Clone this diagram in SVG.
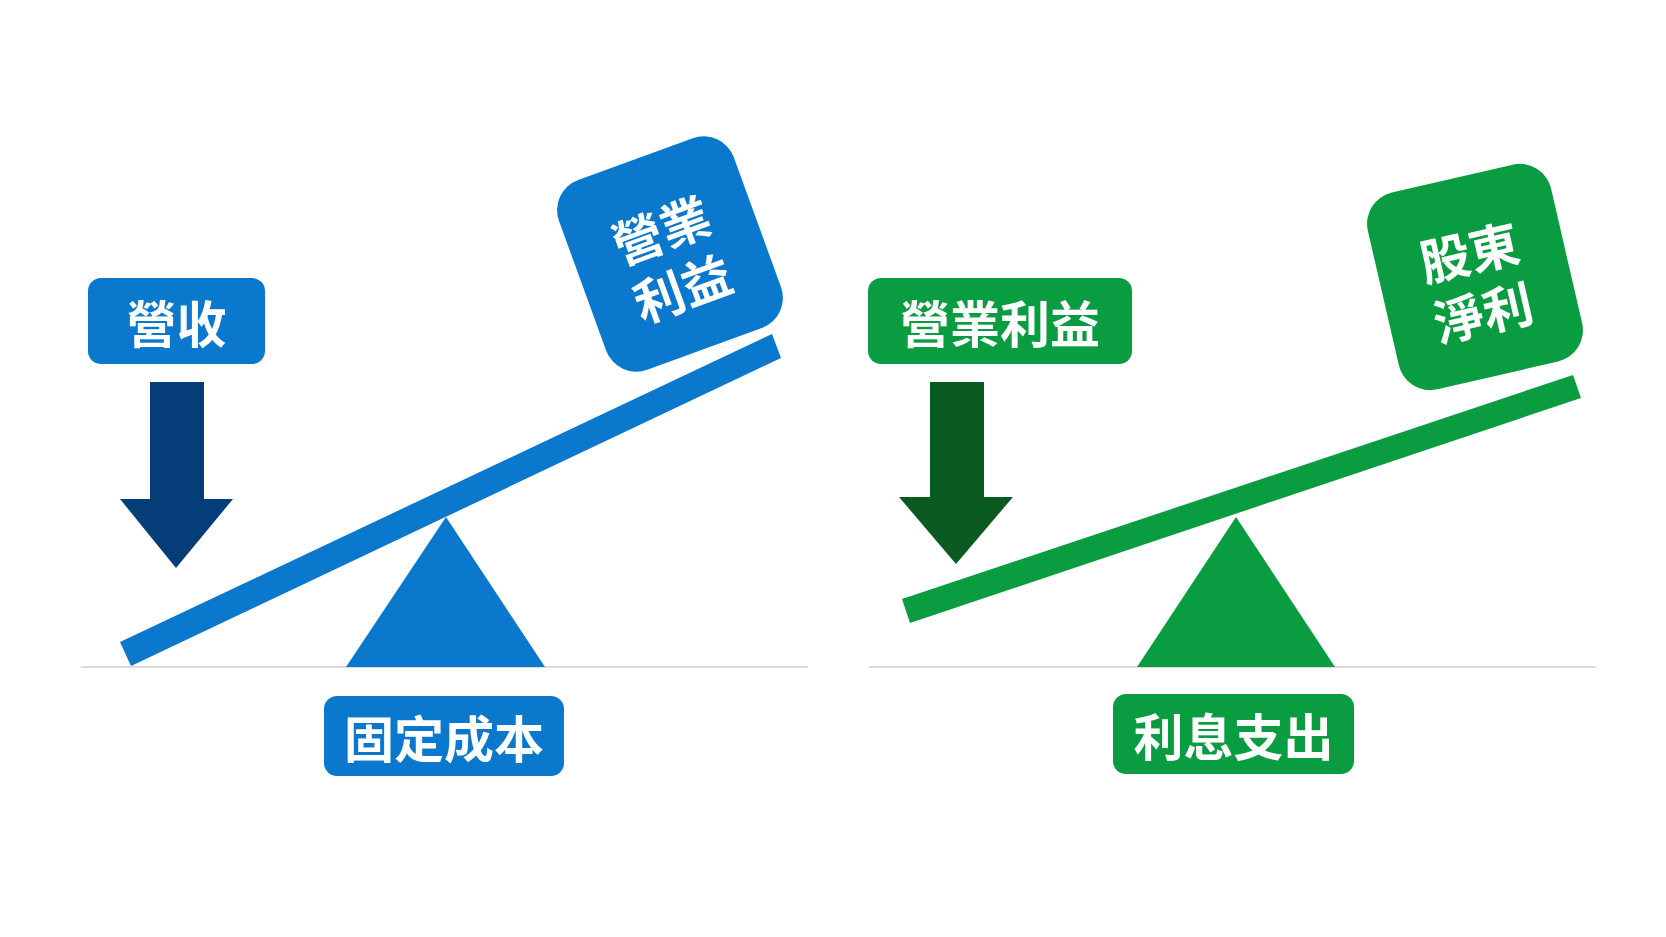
<svg xmlns="http://www.w3.org/2000/svg" width="1666" height="937" viewBox="0 0 1666 937">
<style>
.lbl{font-family:"Noto Sans CJK TC","Noto Sans CJK SC",sans-serif;font-weight:700;fill:#ffffff;text-anchor:middle;dominant-baseline:central}
.blue{fill:#0A78CC}
.green{fill:#0A9C41}
.ground{stroke:#DADADA;stroke-width:2}
</style>
<rect width="1666" height="937" fill="#ffffff"/>
<g id="ground">
<line class="ground" x1="81" y1="667" x2="808" y2="667"/>
<line class="ground" x1="869" y1="667" x2="1596" y2="667"/>
</g>
<g id="left-fulcrum"><polygon class="blue" points="346,667 545,667 446,517"/></g>
<g id="left-beam"><polygon class="blue" points="120,642 772,334 781,358 131,666"/></g>
<g id="left-op-income">
<g transform="translate(670,254) rotate(-20)">
<rect class="blue" x="-93" y="-101" width="186" height="202" rx="32"/>
<text class="lbl" x="0" y="-28" font-size="50">營業</text>
<text class="lbl" x="0" y="34" font-size="50">利益</text>
</g>
</g>
<g id="revenue">
<rect class="blue" x="88" y="278" width="177" height="86" rx="13"/>
<text class="lbl" x="176.5" y="321" font-size="50">營收</text>
</g>
<g id="fixed-cost">
<rect class="blue" x="324" y="696" width="240" height="80" rx="13"/>
<text class="lbl" x="444" y="736" font-size="50">固定成本</text>
</g>
<g id="right-fulcrum"><polygon class="green" points="1137,667 1335,667 1236,517"/></g>
<g id="right-beam"><polygon class="green" points="902,599 1573,375 1581,398 910,623"/></g>
<g id="net-income">
<g transform="translate(1475,277) rotate(-13)">
<rect class="green" x="-94" y="-101" width="188" height="202" rx="32"/>
<text class="lbl" x="0" y="-28" font-size="50">股東</text>
<text class="lbl" x="0" y="34" font-size="50">淨利</text>
</g>
</g>
<g id="op-income">
<rect class="green" x="868" y="278" width="264" height="86" rx="13"/>
<text class="lbl" x="1000" y="321" font-size="50">營業利益</text>
</g>
<g id="interest">
<rect class="green" x="1113" y="694" width="241" height="80" rx="13"/>
<text class="lbl" x="1233.5" y="734" font-size="50">利息支出</text>
</g>
<g id="connectors">
<polygon fill="#043D78" points="150,382 204,382 204,499 233,499 176,568 120,499 150,499"/>
<polygon fill="#0A5A22" points="930,382 984,382 984,497 1013,497 956,564 899,497 930,497"/>
</g>
</svg>
